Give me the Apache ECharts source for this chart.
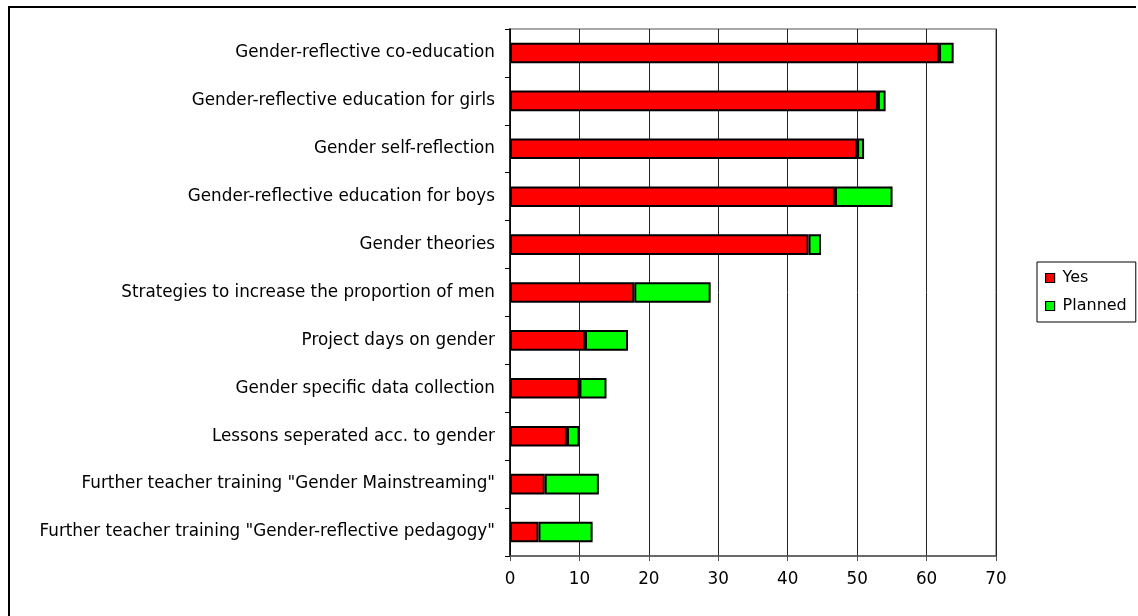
<!DOCTYPE html>
<html>
<head>
<meta charset="utf-8">
<title>Gender topics at schools</title>
<script src="https://cdn.jsdelivr.net/npm/echarts@6/dist/echarts.min.js"></script>
<style>
  html, body { margin: 0; padding: 0; background: #fff; overflow: hidden; }
  #chart { width: 1138px; height: 616px; }
</style>
</head>
<body>
<div id="chart"></div>
<script>
// Topics, listed from top to bottom
const categories = [
  'Gender-reflective co-education',
  'Gender-reflective education for girls',
  'Gender self-reflection',
  'Gender-reflective education for boys',
  'Gender theories',
  'Strategies to increase the proportion of men',
  'Project days on gender',
  'Gender specific data collection',
  'Lessons seperated acc. to gender',
  'Further teacher training "Gender Mainstreaming"',
  'Further teacher training "Gender-reflective pedagogy"'
];

// Share of schools (%)
const yesValues     = [61.8, 53.0, 50.0, 46.8, 43.0, 17.9, 10.8, 10.0, 8.2, 5.0, 4.1];
const plannedValues = [ 2.1,  1.1,  1.0,  8.3,  1.8, 11.0,  6.2,  3.9, 1.8, 7.8, 7.8];

// Value axis ticks
const xMin = 0;
const xMax = 70;
const xStep = 10;

const FONT = 'DejaVu Sans';
const FONT_SIZE = 16.8;

const chart = echarts.init(document.getElementById('chart'), null, { renderer: 'canvas' });

const barStyle = (color) => ({
  color: color,
  borderColor: '#000',
  borderWidth: 2
});

chart.setOption({
  animation: false,
  backgroundColor: '#fff',
  textStyle: { fontFamily: FONT, color: '#000' },
  // Chart frame: left and top edges
  graphic: [{
    type: 'polyline',
    shape: { points: [[9, 616], [9, 7], [1136, 7]] },
    style: { stroke: '#000', lineWidth: 2, fill: null },
    silent: true
  }],
  grid: {
    left: 510,
    right: 142,
    top: 29,
    bottom: 60,
    show: true,
    borderColor: '#8a8a8a',
    borderWidth: 1.5,
    backgroundColor: 'transparent'
  },
  legend: {
    orient: 'vertical',
    left: 1037,
    top: 262,
    padding: [7, 9, 7, 8],
    itemGap: 10,
    itemWidth: 9,
    itemHeight: 9,
    icon: 'rect',
    borderColor: '#000',
    borderWidth: 1,
    backgroundColor: '#fff',
    textStyle: { fontFamily: FONT, fontSize: 16, color: '#000', lineHeight: 18, padding: [0, 0, 0, 3] },
    data: [
      { name: 'Yes', itemStyle: { color: '#ff0000', borderColor: '#000', borderWidth: 1.2 } },
      { name: 'Planned', itemStyle: { color: '#00ff00', borderColor: '#000', borderWidth: 1.2 } }
    ]
  },
  xAxis: {
    type: 'value',
    min: xMin,
    max: xMax,
    interval: xStep,
    axisLine: { show: true, lineStyle: { color: '#555', width: 1.5 } },
    axisTick: { show: true, length: 5, lineStyle: { color: '#555' } },
    axisLabel: { fontFamily: FONT, fontSize: FONT_SIZE, color: '#000', margin: 15 },
    splitLine: { show: true, lineStyle: { color: '#222', width: 1 } }
  },
  yAxis: {
    type: 'category',
    inverse: true,
    data: categories,
    axisLine: { show: true, lineStyle: { color: '#000', width: 1.5 } },
    axisTick: { show: true, length: 5, lineStyle: { color: '#000' } },
    axisLabel: { fontFamily: FONT, fontSize: FONT_SIZE, color: '#000', margin: 15 },
    splitLine: { show: false }
  },
  series: [
    {
      name: 'Yes',
      type: 'bar',
      stack: 'total',
      data: yesValues,
      barCategoryGap: '57%',
      itemStyle: barStyle('#ff0000')
    },
    {
      name: 'Planned',
      type: 'bar',
      stack: 'total',
      data: plannedValues,
      barCategoryGap: '57%',
      itemStyle: barStyle('#00ff00')
    }
  ]
});
</script>
</body>
</html>
